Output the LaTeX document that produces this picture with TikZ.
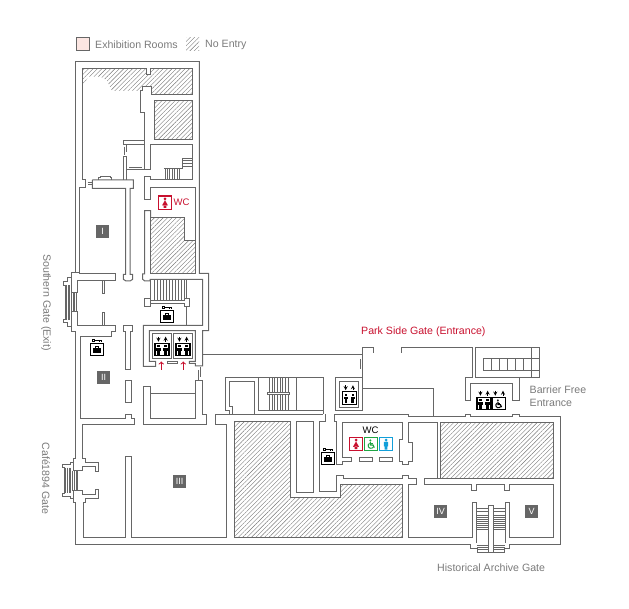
\documentclass[tikz,border=0pt]{standalone}
\usepackage{fontspec}
\setmainfont{Liberation Sans}
\usetikzlibrary{patterns.meta}
\definecolor{wallgray}{HTML}{666666}
\definecolor{hatchgray}{HTML}{777777}
\definecolor{textgray}{HTML}{7A7A7A}
\definecolor{signred}{HTML}{C8102E}
\definecolor{signgreen}{HTML}{1FA544}
\definecolor{signblue}{HTML}{129FD9}
\definecolor{roompink}{HTML}{FCE6E2}
\tikzset{
  wall/.style={draw=wallgray,line width=1pt},
  tread/.style={draw=wallgray,line width=.65pt},
  nogo/.style={pattern={Lines[angle=45,distance=3.1pt,line width=.4pt]},pattern color=hatchgray},
  caption/.style={text=textgray,inner sep=0pt,font=\fontsize{10.6}{13}\selectfont},
  roomno/.style={fill=wallgray,text=white,minimum size=13pt,inner sep=0pt,font=\fontsize{9}{9}\selectfont},
  lifticon/.pic={
    \draw[line width=1.1pt] (-7,-6.2) rectangle (7,6.2);
    \foreach \px in {-3.4,3.4} {
      \fill (\px-1.2,-4.4) rectangle (\px+1.2,-2.4);
      \fill (\px-2.2,-1.4) rectangle (\px+2.2,1.2);
      \fill (\px-1.3,1.2) rectangle (\px+1.3,5.4);
    }
    \draw[-stealth,line width=.8pt] (-3.6,-12.8)--(-3.6,-7.8);
    \draw[-stealth,line width=.8pt] (3.6,-7.8)--(3.6,-12.8);
  },
  lockericon/.pic={
    \draw[line width=1.1pt] (-6.7,-6.2) rectangle (6.7,6.2);
    \fill (-4,-1.6) rectangle (4,3.6);
    \draw[line width=.8pt] (-1.6,-1.6)--(-1.6,-3)--(1.6,-3)--(1.6,-1.6);
    \draw[line width=.9pt] (-5,-9.9) rectangle (-2.6,-8.2);
    \draw[line width=.8pt] (-2.6,-9)--(4.6,-9) (2,-9)--(2,-7.8) (4.2,-9)--(4.2,-7.8);
  },
}
\newcommand{\wheelfig}{
  \fill (-.8,-4.6) circle (1.3);
  \draw[line width=1.2pt] (-.8,-3)--(-.6,.8)--(2.4,.8)--(3.8,4);
  \draw[line width=1pt] (-.7,-1)--(2.2,-1);
  \draw[line width=1pt] (-1.8,-1.17) arc[start angle=240,end angle=30,radius=3.2];
}
\begin{document}
\begin{tikzpicture}[x=1pt,y=-1pt]
\useasboundingbox (0,0) rectangle (629,609);
% hatched parts
\fill[nogo] (82.3,68.3)--(146,68.3)--(146,75)--(150.7,75)--(150.7,68.3)--(192.3,68.3)--(192.3,94.3)--(151.7,94.3)--(151.7,86.7)--(142.7,86.7)--(140,91)--(112,91)--(106.7,80)--(100,76.7)--(88.3,76.7)--(83.3,85)--(82.3,87)--cycle;
\filldraw[wall,nogo] (154.7,100.3) rectangle (192.3,140);
\filldraw[wall,nogo] (150.7,217.3)--(184.7,217.3)--(184.7,240.7)--(195.3,240.7)--(195.3,273.3)--(150.7,273.3)--cycle;
\filldraw[wall,nogo] (234.3,421.7)--(290.3,421.7)--(290.3,497.3)--(340.3,497.3)--(340.3,484.3)--(402.3,484.3)--(402.3,537.3)--(234.3,537.3)--cycle;
\filldraw[wall,nogo] (440.3,422.3) rectangle (553.3,478.3);
% outer walls
\draw[wall] (199.5,62)--(75.3,62)--(75.3,273)--(71.3,273)--(71.3,278)--(67.3,278)--(67.3,281.3)--(63.3,281.3)--(63.3,285.3)--(65,285.3)--(65,319.7)--(63.3,319.7)--(63.3,323)--(67.3,323)--(67.3,326.3)--(71.3,326.3)--(71.3,331.3)--(75.3,331.3)--(75.3,458.7)--(73.3,458.7)--(73.3,462)--(70,462)--(70,464.7)--(62.3,464.7)--(62.3,467.7)--(64,467.7)--(64,493.3)--(62.3,493.3)--(62.3,496.7)--(70,496.7)--(70,498.7)--(73.3,498.7)--(73.3,502.7)--(75.3,502.7)--(75.3,544.2)--(470.3,544.2)--(470.3,548.3)--(477.3,548.3)--(477.3,552.3)--(504.7,552.3)--(504.7,548.3)--(509.3,548.3)--(509.3,544.2)--(560.7,544.2)--(560.7,416)--(519.3,416)--(519.3,414.3)--(512.3,414.3)--(512.3,416)--(470.3,416)--(470.3,414.3)--(465.7,414.3)--(465.7,416)--(408.3,416)--(408.3,414.3)--(334.3,414.3)--(334.3,421)--(336.7,421)--(336.7,464.3)--(342.3,464.3)--(342.3,461.3)--(351.7,461.3)--(351.7,457.3)--(342.3,457.3)--(342.3,422.3)--(402.7,422.3)--(402.7,439.3)--(399.3,439.3)--(399.3,461.7)--(402.7,461.7)--(402.7,464)--(408.3,464)--(408.3,461.7)--(412.7,461.7)--(412.7,442.7)--(408.3,442.7)--(408.3,422.3)--(437.7,422.3)--(437.7,478.3);
\draw[wall] (199.3,62)--(199.3,273.3)--(208.7,273.3)--(208.7,330.7)--(202.7,330.7)--(202.7,366)--(195.3,366)--(195.3,363.3)--(189.3,363.3)--(189.3,361.3)--(195.3,361.3)--(195.3,330.7)--(149.3,330.7)--(149.3,361.3)--(155.7,361.3)--(155.7,366.3)--(143.3,366.3)--(143.3,325.3)--(202.7,325.3)--(202.7,279.3)--(150,279.3)--(150,281)--(144.7,281)--(142.7,279.3)--(142.7,274)--(144.7,274)--(144.7,210.7)--(150.7,210.7)--(150.7,217.3);
% top wing
\draw[wall] (82.3,68.3)--(146,68.3)--(146,75)--(150.7,75)--(150.7,68.3)--(192.3,68.3)--(192.3,94.3)--(151.7,94.3)--(151.7,86.7)--(142.7,86.7)--(142.7,90.7)--(140.7,90.7)--(140.7,112.7)--(144.7,112.7)--(144.7,170) (144.7,140.5)--(123.3,140.5)--(123.3,144.5)--(126,144.5)--(126,152.3) (126,144.5)--(144.7,144.5);
\draw[wall] (82.3,68.3)--(82.3,180)--(85.7,180)--(85.7,188)--(79.3,188)--(79.3,273)--(71.3,273);
\draw[wall] (92.3,180)--(92.3,188.3)--(125.7,188.3)--(125.7,274.3)--(123.3,274.3)--(123.3,279.3)--(126,281)--(130,281)--(132.7,279.3)--(132.7,274.3)--(130,274.3)--(130,188.3)--(133.3,188.3)--(133.3,180)--(92.3,180);
\draw[wall] (123.3,180)--(123.3,156.7)--(126,156.7)--(126,180) (124.3,146.7)--(124.3,155);
\draw[wall] (87.7,182.3)--(92.3,182.3) (88.3,184.3)--(92.3,184.3);
\draw[wall] (98.3,180)--(98.3,177.7)--(100.7,177.7)--(100.7,176.3)--(110,176.3)--(110,177.7)--(111.7,177.7)--(111.7,180);
\draw[wall] (129,167.3)--(141.7,167.3) (126.7,170)--(150.3,170)--(150.3,144.5)--(192.3,144.5)--(192.3,180)--(150.3,180)--(150.3,176.7)--(144.7,176.7)--(144.7,199.3)--(150.7,199.3)--(150.7,187.3)--(195.3,187.3)--(195.3,240.7);
\draw[tread] (182.3,158)--(192.3,158) (182.3,160.7)--(192.3,160.7) (182.3,163.3)--(192.3,163.3) (182.3,166)--(192.3,166);
\draw[tread] (182.3,158)--(182.3,168.3)--(164,168.3);
\foreach \sx in {165,167.4,169.8,172.2,174.6,177,179.4} \draw[tread] (\sx,168.3)--(\sx,180);
% stair hall under room wing
\draw[tread] (150.7,279.3) rectangle (186.7,300.7);
\foreach \sx in {154,157,160,163,166,169,172,175,178,181,184} \draw[tread] (\sx,279.3)--(\sx,300.7);
\filldraw[wall,fill=white] (150,300.7)--(184.7,300.7)--(184.7,298.3)--(189.3,298.3)--(189.3,306.7)--(184.7,306.7)--(184.7,304)--(150,304)--cycle;
\filldraw[wall,fill=white] (144.7,298.3) rectangle (150,306.7);
\draw[wall] (186.7,306.7)--(186.7,325.3);
\draw[wall] (167.3,361.3) rectangle (177.7,363.3);
\draw[wall] (152.3,333.3) rectangle (171.7,358.7);
\draw[wall] (173,333.3) rectangle (192.3,358.7);
% room gates on the left
\draw[wall] (79.3,273.3)--(115.3,273.3)--(115.3,280.7)--(77.3,280.7)--(77.3,293)--(71.3,293)--(71.3,278);
\draw[wall] (71.3,326.3)--(71.3,312)--(77.3,312)--(77.3,325.3)--(115.3,325.3)--(115.3,332)--(111.7,332)--(111.7,336.5)--(80.3,336.5)--(80.3,418.7)--(125.3,418.7)--(125.3,414)--(131.7,414)--(131.7,418.7)--(134.7,418.7)--(134.7,424.7)--(82.3,424.7)--(82.3,458.7)--(85.3,458.7)--(85.3,462)--(98.7,462)--(98.7,471.7)--(95.3,471.7)--(95.3,466.7)--(82.7,466.7)--(82.7,470.7)--(73.3,470.7)--(73.3,458.7);
\draw[wall] (73.3,502.7)--(73.3,490.7)--(82.7,490.7)--(82.7,494.7)--(95.3,494.7)--(95.3,489.3)--(98.7,489.3)--(98.7,498.3)--(85.3,498.3)--(85.3,502.7)--(83.3,502.7)--(83.3,537.3)--(125.7,537.3)--(125.7,456.7)--(131.7,456.7)--(131.7,537.3)--(226.3,537.3)--(226.3,424.7)--(215.3,424.7)--(215.3,414.3)--(323.3,414.3);
\draw[wall] (102.3,280.7)--(102.3,293.3)--(104.3,293.3)--(104.3,280.7) (102.3,325.3)--(102.3,312.7)--(104.3,312.7)--(104.3,325.3);
\draw[wall] (123.3,325.3)--(132.7,325.3)--(132.7,332)--(130.7,332)--(130.7,369.3)--(125.3,369.3)--(125.3,332)--(123.3,332)--cycle;
\draw[wall] (125.3,380.7) rectangle (131.7,402.3);
\foreach \sx in {65,66.5,68,69.5} \draw[tread] (\sx,285.3)--(\sx,319.7);
\foreach \sx in {71.3,73,74.7,76.3} \draw[tread] (\sx,293)--(\sx,312);
\foreach \sx in {64,65.7,67.3,69,70.7} \draw[tread] (\sx,467.7)--(\sx,493.3);
\foreach \sx in {72.7,74.3,76,77.7} \draw[tread] (\sx,470.7)--(\sx,490.7);
% lift hall room and doors
\draw[wall] (143.3,386.3)--(150.7,386.3)--(150.7,418.7)--(195.3,418.7)--(195.3,380.7)--(202.7,380.7)--(202.7,414)--(206.3,414)--(206.3,424.7)--(143.3,424.7)--cycle;
\draw[wall] (150.7,393.3)--(195.3,393.3);
\draw[wall] (198.3,370)--(198.3,380.7) (200.3,366.7)--(200.3,376.7);
% middle block
\draw[wall] (202.7,354.3)--(362.3,354.3)--(362.3,347.7)--(373.3,347.7)--(373.3,353.3);
\draw[wall] (360.3,359.3)--(360.3,369.3) (362.3,354.3)--(362.3,377.3)--(335.3,377.3)--(335.3,410)--(362.3,410)--(362.3,377.3);
\draw[wall] (339.3,381.3) rectangle (358.3,407.3);
\draw[wall] (362.3,388.3)--(433.7,388.3)--(433.7,416);
\draw[wall] (401.3,352.7)--(401.3,347.7)--(472.3,347.7)--(472.3,377.3)--(465.7,377.3)--(465.7,400.3)--(470.3,400.3)--(470.3,384)--(512.3,384)--(512.3,400.3)--(519.3,400.3)--(519.3,377.3)--(475.3,377.3)--(475.3,347.7)--(539.3,347.7)--(539.3,377.3)--(519.3,377.3);
\draw[wall] (483.3,358.7)--(539.3,358.7) (483.3,370.7)--(539.3,370.7) (483.3,358.7)--(483.3,370.7);
\foreach \sx in {491.3,499.3,507.3,515.3,523.3,531.3} \draw[wall] (\sx,358.7)--(\sx,370.7);
\draw[wall] (531.3,347.7)--(531.3,377.3);
\draw[wall] (225.3,414.3)--(229.3,414.3)--(229.3,410.7)--(225.3,410.7)--(225.3,377.3)--(323.3,377.3)--(323.3,414.3);
\draw[wall] (232.7,414.3)--(232.7,406)--(229.3,406)--(229.3,381.3)--(254.7,381.3)--(254.7,414.3);
\draw[wall] (258.3,377.3)--(258.3,410.7)--(323.3,410.7) (296.3,377.3)--(296.3,410.7);
\foreach \sx in {269.3,272,274.7,277.3,280,282.7,285.3,288} \draw[tread] (\sx,377.3)--(\sx,410.7);
\filldraw[wall,fill=white] (267,392.3) rectangle (289,394.7);
\draw[wall] (296.3,421.7) rectangle (313.7,492);
\draw[wall] (325.7,414.3)--(325.7,421)--(319.3,421)--(319.3,491.7)--(336.7,491.7)--(336.7,475.3)--(343.7,475.3)--(343.7,478.5)--(402.7,478.5)--(402.7,475.3)--(408.3,475.3)--(408.3,478.3)--(416.7,478.3)--(416.7,484.3)--(408.3,484.3)--(408.3,537.3)--(472.3,537.3)--(472.3,502.7)--(476.7,502.7)--(476.7,543.3);
\draw[wall] (215.3,414.3)--(215.3,424.3)--(226.7,424.3)--(226.7,537.3);
\draw[wall] (359.3,457.3) rectangle (372.7,461.3);
\draw[wall] (379.3,457.3) rectangle (392.7,461.3);
% right wing
\draw[wall] (437.7,478.3)--(424.3,478.3)--(424.3,484.3)--(471.3,484.3)--(471.3,490.7)--(476,490.7)--(476,484.3)--(504.7,484.3)--(504.7,490.7)--(509.3,490.7)--(509.3,484.3)--(553.3,484.3)--(553.3,537.3)--(509.3,537.3)--(509.3,502.7)--(505.3,502.7)--(505.3,543.3);
\draw[wall] (424.3,478.3)--(440.3,478.3);
\draw[wall] (488.7,505.3) rectangle (493.3,552.3);
\draw[tread] (476.7,508.7)--(488.7,508.7) (476.7,511.3)--(488.7,511.3) (493.3,508.7)--(505.3,508.7) (493.3,511.3)--(505.3,511.3);
\foreach \sy in {515,517,519,521,523,525,527,529} {
  \draw[tread] (476.7,\sy)--(488.7,\sy);
  \draw[tread] (493.3,\sy)--(505.3,\sy);
}
\foreach \sy in {545.5,547.5,549.5} {
  \draw[tread] (477.3,\sy)--(488.7,\sy);
  \draw[tread] (493.3,\sy)--(504.7,\sy);
}
% legend
\filldraw[draw=wallgray,fill=roompink,line width=.8pt] (76.5,37.7) rectangle (89.3,50.7);
\fill[nogo] (186,37.7) rectangle (199,50.7);
\node[caption,anchor=west] (exhibit) at (95,44.5) {Exhibition Rooms};
\node[caption,anchor=west] (noentry) at (205,44.5) {No Entry};
% rooms
\node[roomno] (roomI) at (102.5,231.3) {I};
\node[roomno] (roomII) at (103.5,377.5) {II};
\node[roomno] (roomIII) at (179.5,481.5) {III};
\node[roomno] (roomIV) at (440.5,511.5) {IV};
\node[roomno] (roomV) at (531.5,511.5) {V};
% lifts and lockers
\pic[black] at (162,349.5) {lifticon};
\pic[black] at (183,349.5) {lifticon};
\pic[black] at (349.3,398) {lifticon};
\pic[black] at (484,403.5) {lifticon};
\draw[line width=1.1pt] (492,397.3) rectangle (505.7,409.7);
\begin{scope}[shift={(498.5,404)},scale=.8]
\wheelfig
\end{scope}
\draw[-stealth,line width=.8pt] (495.3,390.7)--(495.3,395.7);
\draw[-stealth,line width=.8pt] (503,395.7)--(503,390.7);
\pic[black] at (167,316.7) {lockericon};
\pic[black] at (97,349.5) {lockericon};
\pic[black] at (328,458.5) {lockericon};
\draw[signred,->,line width=1pt] (161.3,370)--(161.3,361.5);
\draw[signred,->,line width=1pt] (183.3,370)--(183.3,361.5);
% toilets
\draw[signred,line width=1.1pt] (158.3,196) rectangle (171.7,209.3);
\fill[signred] (165,198.8) circle (1.5) (165,200.2)--(168,205.5)--(162,205.5)--cycle (163.7,205)rectangle(166.3,207.8);
\node[inner sep=0pt,text=signred,font=\fontsize{9.5}{10}\selectfont] (wcupper) at (181.5,202.5) {WC};
\node[inner sep=0pt,font=\fontsize{9.5}{10}\selectfont] (wclower) at (370.5,430.5) {WC};
\draw[signred,line width=1.1pt] (349.3,437.3) rectangle (362.7,450.7);
\fill[signred] (356,440) circle (1.5) (356,441.4)--(359,446.8)--(353,446.8)--cycle (354.7,446.3)rectangle(357.3,449);
\draw[signgreen,line width=1.1pt] (364.3,437.3) rectangle (377.7,450.7);
\begin{scope}[signgreen,shift={(371,444.3)},scale=.85]
\wheelfig
\end{scope}
\draw[signblue,line width=1.1pt] (379.3,437.3) rectangle (392.7,450.7);
\fill[signblue] (386,440) circle (1.5) (383.9,441.8)rectangle(388.1,446.3) (384.7,446.3)rectangle(387.3,449.5);
% gate names
\node[caption,text=signred,anchor=west] (parkside) at (361,332) {Park Side Gate (Entrance)};
\node[caption,anchor=west] (barrier) at (529.5,390) {Barrier Free};
\node[caption,anchor=west] (barrierb) at (529.5,403) {Entrance};
\node[caption,anchor=west] (archive) at (437,568) {Historical Archive Gate};
\node[caption,rotate=-90] (southern) at (46,302.5) {Southern Gate (Exit)};
\node[caption,rotate=-90] (cafe) at (46,478.5) {Café1894 Gate};
\end{tikzpicture}
\end{document}
